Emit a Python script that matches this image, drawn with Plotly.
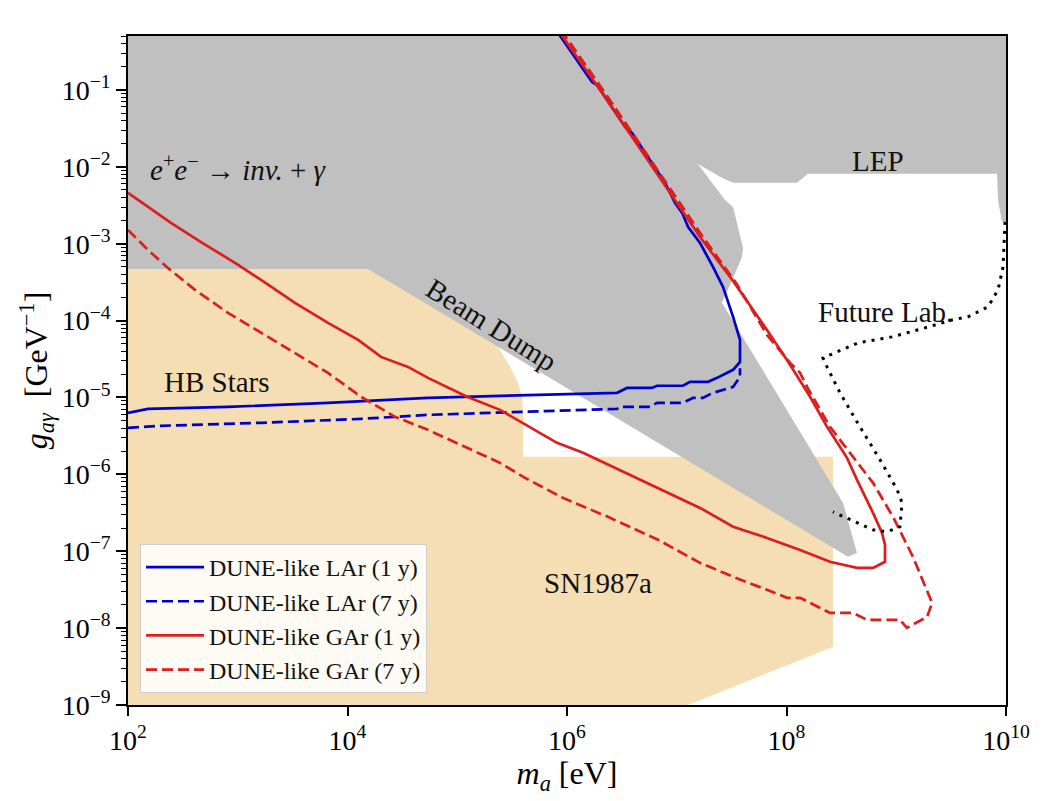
import numpy as np
import plotly.graph_objects as go

# excluded regions
# grey: e+e- -> inv.+gamma, LEP and beam dump, one outline
gray_x = [1e2, 1e10, 1e10, 9.2e9, 8.46e9, 8.28e9, 1.57e8, 1.25e8, 3.26e7, 2.58e7,
          1.56e7, 2.75e7, 3.26e7, 4.02e7, 3.93e7, 3.61e7, 3.06e7, 2.58e7, 3.27e8,
          4.39e8, 3.63e8, 1.54e4, 1e2]
gray_y = [1.0, 1.0, 1.92e-3, 1.92e-3, 3.7e-3, 8.1e-3, 8.1e-3, 6.2e-3, 6.2e-3, 7.2e-3,
          1.09e-2, 3.7e-3, 3.0e-3, 8.8e-4, 6.7e-4, 5.0e-4, 2.9e-4, 1.7e-4, 4.26e-7,
          9.5e-8, 8.45e-8, 4.7e-4, 4.7e-4]

# wheat: HB stars + SN1987a
orange_x = [1e2, 1e2, 1.99e5, 2.30e5, 3.03e5, 3.58e5, 3.89e5, 3.97e5, 3.97e5,
            2.65e8, 2.65e8, 1.27e7]
orange_y = [1e-9, 5.0e-4, 5.0e-4, 4.83e-5, 2.50e-5, 1.55e-5, 1.02e-5, 6.5e-6, 1.69e-6,
            1.69e-6, 5.7e-9, 1e-9]

# DUNE-like LAr, 1 y
lar1_x = [1e2, 1.52e2, 8.15e2, 6.64e3, 5.41e4, 2.86e6, 3.52e6, 5.94e6, 6.61e6, 1.14e7,
          1.32e7, 1.93e7, 2.33e7, 3.26e7, 3.77e7, 3.77e7, 3.26e7, 2.64e7, 2.14e7, 1.63e7,
          1.27e7, 1.12e7, 9.64e6, 8.68e6, 7.82e6, 3.91e6, 3.38e6, 1.88e6, 1.69e6, 7.94e5]
lar1_y = [6.31e-6, 7.11e-6, 7.55e-6, 8.51e-6, 9.89e-6, 1.15e-5, 1.33e-5, 1.33e-5, 1.42e-5,
          1.42e-5, 1.60e-5, 1.60e-5, 1.80e-5, 2.29e-5, 2.90e-5, 5.61e-5, 1.12e-4, 2.74e-4,
          4.99e-4, 1.02e-3, 1.65e-3, 2.52e-3, 3.40e-3, 4.58e-3, 6.18e-3, 2.76e-2, 3.30e-2,
          0.116, 0.127, 0.603]

# DUNE-like LAr, 7 y
lar7_x = [1e2, 2.0e2, 1.63e3, 1.33e4, 5.41e4, 2.86e6, 3.04e6, 5.71e6, 6.61e6, 1.14e7,
          1.41e7, 1.73e7, 2.14e7, 3.26e7, 3.77e7, 3.77e7]
lar7_y = [4.03e-6, 4.28e-6, 4.68e-6, 5.27e-6, 5.94e-6, 7.11e-6, 7.55e-6, 7.55e-6, 8.51e-6,
          8.51e-6, 9.89e-6, 9.89e-6, 1.15e-5, 1.37e-5, 1.85e-5, 2.4e-5]

# DUNE-like GAr, 1 y
gar1_x = [1e2, 2.46e2, 4.63e2, 9.44e2, 1.63e3, 3.32e3, 6.64e3, 1.25e4, 2.02e4, 3.56e4,
          5.41e4, 1.23e5, 2.45e5, 4.60e5, 8.11e5, 1.40e6, 3.38e6, 6.75e6, 1.63e7, 3.26e7,
          6.64e7, 1.33e8, 2.49e8, 4.39e8, 6.14e8, 7.90e8, 7.90e8, 7.42e8, 6.14e8, 4.39e8,
          3.56e8, 2.34e8, 1.64e8, 1.15e8, 1.01e8, 6.64e7, 3.26e7, 1.63e7, 8.32e6, 3.91e6,
          1.92e6, 8.28e5]
gar1_y = [4.58e-3, 1.86e-3, 1.05e-3, 5.62e-4, 3.38e-4, 1.70e-4, 9.33e-5, 5.61e-5, 3.37e-5,
          2.50e-5, 1.80e-5, 1.02e-5, 6.90e-6, 4.15e-6, 2.57e-6, 1.91e-6, 1.05e-6, 6.67e-7,
          3.66e-7, 2.08e-7, 1.49e-7, 1.04e-7, 7.28e-8, 6.08e-8, 6.08e-8, 7.28e-8, 1.21e-7,
          1.73e-7, 3.15e-7, 8.48e-7, 1.64e-6, 4.15e-6, 1.02e-5, 2.29e-5, 3.08e-5, 7.57e-5,
          3.28e-4, 1.22e-3, 5.01e-3, 2.45e-2, 0.109, 0.603]

# DUNE-like GAr, 7 y
gar7_x = [1e2, 1.52e2, 2.31e2, 4.08e2, 8.15e2, 1.63e3, 3.32e3, 6.64e3, 1.33e4, 2.71e4,
          5.41e4, 8.59e4, 2.45e5, 4.14e5, 9.2e5, 2.36e6, 6.75e6, 1.63e7, 3.26e7, 6.64e7,
          1.01e8, 1.33e8, 1.64e8, 2.49e8, 4.04e8, 5.41e8, 1.08e9, 1.25e9, 1.91e9, 2.12e9,
          1.42e9, 9.34e8, 6.14e8, 4.04e8, 3.07e8, 2.49e8, 1.54e8, 1.33e8, 1.08e8, 6.64e7,
          3.47e7, 1.73e7, 8.87e6, 4.17e6, 2.04e6, 8.81e5]
gar7_y = [1.51e-3, 8.30e-4, 4.84e-4, 2.51e-4, 1.26e-4, 6.92e-5, 3.80e-5, 2.09e-5, 1.02e-5,
          5.60e-6, 3.79e-6, 2.81e-6, 1.41e-6, 9.01e-7, 4.94e-7, 2.80e-7, 1.41e-7, 7.06e-8,
          4.65e-8, 3.15e-8, 2.48e-8, 2.48e-8, 2.13e-8, 1.58e-8, 1.58e-8, 1.28e-8, 1.28e-8,
          1.01e-8, 1.40e-8, 2.13e-8, 8.45e-8, 2.80e-7, 7.75e-7, 1.69e-6, 2.81e-6, 4.15e-6,
          1.37e-5, 2.09e-5, 2.82e-5, 6.52e-5, 3.09e-4, 1.22e-3, 5.01e-3, 2.45e-2, 0.109, 0.603]

# Future Lab. projection (dotted)
future_x = [9.8e9, 9.4e9, 8.46e9, 6.86e9, 4.51e9, 3.22e9, 1.83e9, 9.15e8, 4.48e8, 2.15e8,
            2.34e8, 3.07e8, 4.67e8, 7.11e8, 1.02e9, 1.13e9, 1.08e9, 8.24e8, 6.14e8, 4.39e8,
            3.27e8, 2.65e8]
future_y = [1.92e-3, 4.99e-4, 2.51e-4, 1.51e-4, 1.12e-4, 1.02e-4, 8.04e-5, 6.14e-5, 5.13e-5,
            3.27e-5, 2.50e-5, 1.15e-5, 4.15e-6, 1.55e-6, 6.29e-7, 4.26e-7, 2.08e-7, 1.79e-7,
            1.90e-7, 2.34e-7, 2.80e-7, 3.25e-7]

# region labels
label_text = ["<i>e</i><sup>+</sup><i>e</i><sup>−</sup> → <i>inv.</i> + <i>γ</i>",
              "LEP", "Beam Dump", "HB Stars", "Future Lab.", "SN1987a"]
label_x = [1.52e2, 6.82e8, 2.07e5, 6.47e2, 7.90e8, 1.92e6]
label_y = [9.7e-3, 1.19e-2, 8.8e-5, 1.60e-5, 1.30e-4, 3.88e-8]
label_angle = [0, 0, 32, 0, 0, 0]
label_anchor = ["left", "center", "center", "center", "center", "center"]

xtick_vals = [1e2, 1e4, 1e6, 1e8, 1e10]
xtick_text = ["10<sup>2</sup>", "10<sup>4</sup>", "10<sup>6</sup>", "10<sup>8</sup>", "10<sup>10</sup>"]
ytick_vals = [1e-9, 1e-8, 1e-7, 1e-6, 1e-5, 1e-4, 1e-3, 1e-2, 1e-1]
ytick_text = ["10<sup>−%d</sup>" % k for k in range(9, 0, -1)]
yminor = [k * 10.0 ** e for e in range(-9, 0) for k in range(2, 10)]

FONT = "Liberation Serif"
BLUE = "#0000cc"
RED = "#dc1e1e"
LW = 2.7

fig = go.Figure()

fig.add_trace(go.Scatter(x=orange_x, y=orange_y, fill="toself", mode="lines",
                         fillcolor="#f5deb3", line=dict(width=0, color="#f5deb3"),
                         showlegend=False, hoverinfo="skip"))
fig.add_trace(go.Scatter(x=gray_x, y=gray_y, fill="toself", mode="lines",
                         fillcolor="#c0c0c0", line=dict(width=0, color="#c0c0c0"),
                         showlegend=False, hoverinfo="skip"))

fig.add_trace(go.Scatter(x=lar1_x, y=lar1_y, mode="lines", name="DUNE-like LAr (1 y)",
                         legendgroup="a", line=dict(color=BLUE, width=LW)))
fig.add_trace(go.Scatter(x=lar7_x, y=lar7_y, mode="lines", name="DUNE-like LAr (7 y)",
                         legendgroup="b", line=dict(color=BLUE, width=LW, dash="11px,5px")))
fig.add_trace(go.Scatter(x=gar1_x, y=gar1_y, mode="lines", name="DUNE-like GAr (1 y)",
                         legendgroup="c", line=dict(color=RED, width=LW)))
fig.add_trace(go.Scatter(x=gar7_x, y=gar7_y, mode="lines", name="DUNE-like GAr (7 y)",
                         legendgroup="d", line=dict(color=RED, width=LW, dash="11px,5px")))
fig.add_trace(go.Scatter(x=future_x, y=future_y, mode="lines", showlegend=False,
                         line=dict(color="black", width=3, dash="3px,6px")))

for t, lx, ly, ang, anc in zip(label_text, label_x, label_y, label_angle, label_anchor):
    fig.add_annotation(x=np.log10(lx), y=np.log10(ly), text=t, showarrow=False,
                       textangle=ang, xanchor=anc, yanchor="middle",
                       font=dict(family=FONT, size=29, color="#111111"))

fig.update_xaxes(type="log", range=[2, 10], tickvals=xtick_vals, ticktext=xtick_text,
                 showgrid=False, zeroline=False, showline=True, linecolor="black",
                 linewidth=1.8, mirror=True, ticks="outside", ticklen=9, tickwidth=1.5,
                 tickcolor="black", tickfont=dict(family=FONT, size=28, color="black"),
                 title=dict(text="<i>m</i><sub><i>a</i></sub> [eV]", standoff=6,
                            font=dict(family=FONT, size=32, color="black")),
                 automargin=False)
fig.update_yaxes(type="log", range=[-9, np.log10(0.503)], tickvals=ytick_vals,
                 ticktext=ytick_text, showgrid=False, zeroline=False, showline=True,
                 linecolor="black", linewidth=1.8, mirror=True, ticks="outside",
                 ticklen=10, tickwidth=1.5, tickcolor="black",
                 minor=dict(tickmode="array", tickvals=yminor, ticks="outside", ticklen=5,
                            tickwidth=1, tickcolor="black", showgrid=False),
                 tickfont=dict(family=FONT, size=28, color="black"),
                 title=dict(text="<i>g</i><sub><i>aγ</i></sub>  [GeV<sup>−1</sup>]", standoff=4,
                            font=dict(family=FONT, size=32, color="black")),
                 automargin=False)

# the page body has an 8px margin, so the figure is shrunk and shifted by that much
fig.update_layout(width=1042, height=793, margin=dict(l=120, r=44, t=28, b=96),
                  paper_bgcolor="white", plot_bgcolor="white",
                  legend=dict(x=0.0137, y=0.018, xanchor="left", yanchor="bottom",
                              bgcolor="rgba(255,255,255,0.85)", bordercolor="#cccccc",
                              borderwidth=1, itemwidth=58, tracegroupgap=0,
                              font=dict(family=FONT, size=24, color="#111111")),
                  hovermode=False)

fig.write_html("out.html")
